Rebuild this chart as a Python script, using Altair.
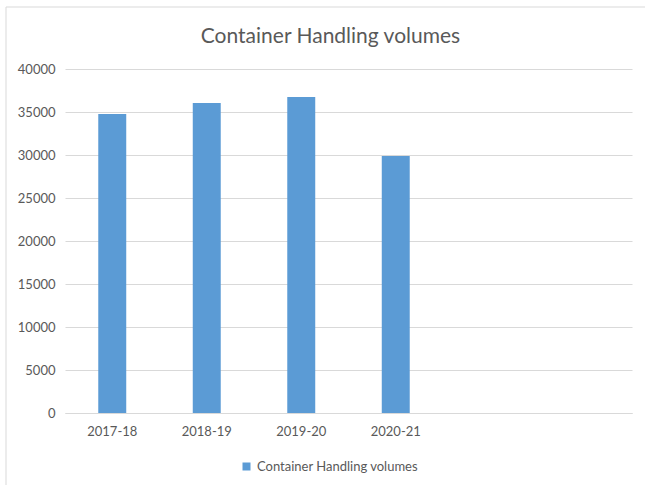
import altair as alt
import pandas as pd

categories = ["2017-18", "2018-19", "2019-20", "2020-21"]
slots = ["2017-18", "2018-19", "2019-20", "2020-21", "_5", "_6"]
values = [34770, 36050, 36740, 29880]
series_name = "Container Handling volumes"

df = pd.DataFrame({"year": categories, "value": values, "series": series_name})

FONT = "Lato"
GREY = "#595959"

bars = alt.Chart(df).mark_bar(color="#5b9bd5").encode(
    x=alt.X("year:N", sort=slots,
            scale=alt.Scale(domain=slots, paddingInner=0.704, paddingOuter=0.352),
            axis=alt.Axis(title=None, values=categories, ticks=False, domain=True,
                          domainColor="#d9d9d9", labelAngle=0, labelFont=FONT,
                          labelFontSize=13, labelColor=GREY, labelPadding=12)),
    y=alt.Y("value:Q", scale=alt.Scale(domain=[0, 40000]),
            axis=alt.Axis(title=None, values=list(range(0, 40001, 5000)), ticks=False,
                          format="d", domain=False, gridColor="#d9d9d9", labelFont=FONT,
                          labelFontSize=13, labelColor=GREY, labelPadding=10)),
    fill=alt.Fill("series:N", scale=alt.Scale(range=["#5b9bd5"]),
                  legend=alt.Legend(title=None, orient="none", legendX=175, legendY=391,
                                    symbolType="square", symbolSize=64, labelFont=FONT,
                                    labelFontSize=13, labelColor=GREY, labelLimit=400,
                                    symbolStrokeWidth=0)),
)

border = alt.Chart(pd.DataFrame({"a": [0]})).mark_rect(
    fill=None, stroke="#d9d9d9", strokeWidth=1
).encode(x=alt.value(-59), x2=alt.value(620), y=alt.value(-62), y2=alt.value(500))

chart = alt.layer(border, bars).properties(
    width=567, height=344,
    title=alt.TitleParams(series_name, font=FONT, fontSize=21, fontWeight="normal",
                          color=GREY, anchor="middle", frame="group", dx=-18, offset=0,
                          dy=40),
    autosize=alt.AutoSizeParams(type="none"),
    padding={"left": 65, "top": 69, "right": 13, "bottom": 72},
).configure_view(stroke=None)

chart.save("out.html", embed_options={"renderer": "svg", "actions": False})
